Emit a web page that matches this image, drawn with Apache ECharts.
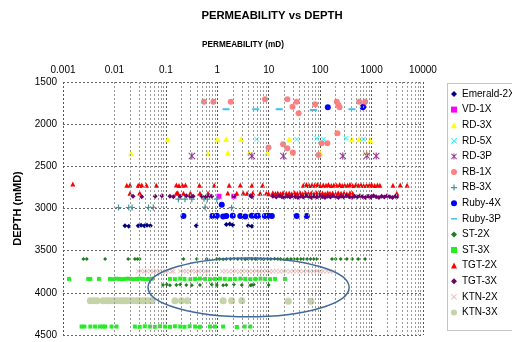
<!DOCTYPE html>
<html><head><meta charset="utf-8">
<script src="https://cdn.jsdelivr.net/npm/echarts@6/dist/echarts.min.js"></script>
<style>html,body{margin:0;padding:0;background:#fff}#c{width:512px;height:342px}</style>
</head><body><div id="c"></div>
<script>
// ---- tick labels ----
const xTickLabels = ['0.001','0.01','0.1','1','10','100','1000','10000'];
const yTicks = [1500,2000,2500,3000,3500,4000,4500];
const minorDecades = [0.001,0.01,0.1,1,10,100,1000];
const minorMults = [2,3,4,5,6,7,8,9];

// ---- series names ----
const seriesNames = ['Emerald-2X','VD-1X','RD-3X','RD-5X','RD-3P','RB-1X','RB-3X','Ruby-4X','Ruby-3P','ST-2X','ST-3X','TGT-2X','TGT-3X','KTN-2X','KTN-3X'];

// ---- data: [permeability mD, depth mMD] ----
const emerald2X = [[0.016,3205],[0.019,3210],[0.029,3205],[0.033,3200],[0.038,3205],[0.043,3200],[0.05,3205],[0.39,3205],[1.5,3190],[1.75,3185],[2.0,3195],[4.0,3205],[4.7,3210]];
const vd1X = [[1.08,2855],[2.1,2855],[700,1785]];
const rd3X = [[0.021,2345],[0.109,2180],[0.65,2345],[1.0,2180],[1.48,2175],[1.6,2338],[2.9,2175],[4.2,2338],[9.4,2338],[25,2180],[29.5,2338],[100,2338],[414,2180],[574,2175],[940,2192],[810,2338]];
const rd5X = [[5.8,2180],[35,2180],[86,2168],[116,2180],[320,2168],[697,2175]];
const rd3P = [[0.32,2377],[4.7,2377],[19.3,2377],[276,2377],[810,2375],[1230,2377]];
const rb1X = [[0.55,1733],[0.84,1733],[1.83,1733],[8.5,1705],[23,1705],[35,1733],[29,1792],[38,1871],[80,1764],[211,1733],[227,1772],[238,1800],[574,1733],[750,1733],[217,2108],[19,2238],[23,2286],[9.9,2277],[29.5,2337],[107,2226],[138,2226],[93,2365]];
const rb3X = [[0.175,2890],[0.235,2890],[0.32,2890],[0.55,2885],[0.64,2890],[0.98,2890],[0.012,2988],[0.019,2988],[0.022,2988],[0.046,2988],[0.057,2988],[0.58,2985],[1.9,2990]];
const ruby4X = [[1.22,2955],[141,1800],[676,1800],[0.22,3090],[0.8,3090],[0.98,3085],[1.3,3095],[1.5,3090],[2.0,3085],[2.8,3090],[3.5,3095],[4.7,3085],[5.8,3090],[6.2,3085],[8.4,3090],[9.8,3085],[11.5,3090],[35,3090],[55,3090]];
const ruby3P = [[1.48,1823],[5.6,1823],[16,1823],[74,1832],[414,1823]];
const st2X = [[0.0025,3598],[0.0029,3600],[0.0066,3598],[0.0185,3600],[0.025,3598],[0.028,3600],[0.031,3598],[0.22,3598],[0.4,3600],[0.62,3598],
  [0.97,3600],[1.1,3598],[1.3,3602],[1.5,3598],[1.8,3600],[2.1,3596],[2.5,3600],[3.0,3598],[3.5,3602],[4.0,3598],[4.7,3600],[5.5,3598],
  [6,3600],[7,3598],[8,3602],[9.5,3598],[11,3600],[13,3596],[15,3600],[17,3598],[20,3602],[23,3598],[27,3600],[31,3598],[36,3600],[42,3598],[48,3600],[56,3598],[65,3600],[75,3598],[85,3600],
  [170,3600],[200,3598],[250,3600],[330,3598],[420,3600],[550,3598],[750,3600],
  [0.088,3906],[0.104,3900],[0.12,3910],[0.16,3906],[0.19,3900],[0.25,3906],[0.32,3910],[0.46,3906],[0.78,3900],[0.98,3906],[1.3,3910],[1.5,3906],[2.1,3900],[3.0,3906],[4.4,3910],[4.7,3906],[5.1,3900],[10,3906]];
const st3X = [[0.00131,3835],[0.0031,3835],[0.0034,3835],[0.005,3835],
  [0.0082,3835],[0.0094,3838],[0.0107,3832],[0.0123,3835],[0.014,3838],[0.016,3835],[0.0183,3832],[0.021,3835],[0.024,3838],[0.0275,3835],[0.031,3832],[0.036,3835],[0.041,3838],[0.047,3835],[0.054,3832],
  [0.12,3835],[0.15,3838],[0.19,3832],[0.23,3835],[0.3,3838],[0.37,3835],[0.46,3832],[0.58,3835],[0.72,3838],[0.9,3835],[1.13,3832],[1.4,3835],[1.77,3838],[2.2,3835],[2.8,3832],[3.5,3835],[4.4,3838],[5.5,3835],[6.9,3832],[8.5,3835],[10.7,3838],[13.3,3835],[20.7,3835],
  [0.0023,4400],[0.0026,4400],[0.0034,4400],[0.0042,4400],[0.0052,4400],[0.006,4400],[0.0066,4400],[0.0088,4400],[0.011,4400],
  [0.025,4400],[0.031,4403],[0.039,4397],[0.049,4400],[0.061,4403],[0.077,4397],[0.096,4400],[0.12,4403],[0.15,4397],[0.19,4400],[0.23,4403],[0.29,4397],[0.37,4400],[0.46,4403],
  [0.72,4400],[0.9,4400],[1.3,4400],[2.4,4405],[3.4,4400],[4.4,4400]];
const tgt2X = [[0.00155,2709],
  [0.0174,2724],[0.02,2720],[0.029,2724],[0.031,2728],[0.034,2720],[0.042,2724],[0.065,2724],[0.16,2720],[0.18,2728],[0.21,2724],[0.24,2720],[0.45,2724],[0.87,2724],[1.7,2724],[2.8,2720],[4.7,2724],[7.6,2724],
  [47,2724],[54,2716],[61,2728],[69,2720],[78,2724],[88,2716],[100,2728],[115,2720],[130,2724],[145,2716],[165,2728],[185,2720],[210,2724],[240,2716],[270,2728],[300,2720],[340,2724],[380,2716],[430,2728],[490,2720],[550,2724],[620,2716],[700,2728],[800,2720],[900,2724],[1000,2716],[1150,2728],[1300,2720],[1450,2724],[2600,2724],[3600,2720],[4900,2724],
  [0.02,2818],[0.031,2815],[0.16,2820],[0.17,2812],[0.22,2820],[0.3,2815],[0.46,2818],[0.66,2820],[1.6,2815],[2.4,2818],[3.2,2815],[3.8,2820],[4.9,2815],
  [6.8,2820],[9,2815],[10,2825],[12,2812],[13.5,2822],[15,2815],[17,2825],[19,2812],[22,2820],[25,2815],[28,2825],[32,2812],[36,2820],[41,2815],[46,2825],[52,2812],[59,2820],[67,2815],[76,2825],[86,2812],[98,2820],[111,2815],[125,2825],[140,2812],[155,2820],[175,2815],[200,2825],[225,2812],[255,2820],[290,2815],[330,2825],[380,2812],[430,2820],[3100,2820]];
const tgt3X = [[0.023,2855],[0.034,2860],[0.062,2855],[0.084,2850],[0.12,2855],[0.14,2860],[0.19,2855],[0.25,2850],[0.3,2860],[0.34,2855],[0.5,2855],[0.6,2860],[0.7,2850],[0.78,2855],[2.1,2855],[4.7,2860],[4.4,2850],
  [12,2855],[14,2865],[16,2850],[18,2860],[20,2870],[23,2855],[26,2865],[29,2850],[33,2860],[37,2870],[42,2855],[47,2865],[53,2850],[60,2860],[68,2870],[76,2855],[86,2865],[97,2850],[110,2860],[124,2870],[140,2855],[158,2865],[178,2850],[200,2860],[226,2870],[255,2855],[288,2865],[325,2850],[367,2860],[414,2870],[468,2855],[528,2865],[596,2850],[673,2860],[760,2870],[858,2855],[968,2865],[1090,2850],[1230,2860],[1390,2870],[1570,2855],[1770,2865],[2000,2850],[2260,2860],[2550,2870],[2900,2855],[3100,2865]];
const ktn2X = [[0.029,3745],[0.033,3742],[0.038,3748],[0.043,3745],[0.05,3742],[0.057,3748],[0.065,3745],[0.075,3742],[0.086,3748],[0.1,3745],[0.11,3742],[0.13,3748],[0.14,3745],
  [0.19,3745],[0.22,3742],[0.25,3748],[0.29,3745],[0.33,3742],[0.38,3748],[0.44,3745],[0.5,3742],[0.58,3748],[0.66,3745],
  [1.25,3745],[1.45,3742],[1.7,3748],[2,3745],[2.3,3742],[2.7,3748],[3.1,3745],[3.6,3742],[4.2,3748],[4.9,3745],[5.7,3742],[6.6,3748],[7.7,3745],[9,3742],[10.5,3748],[12,3745],[14,3742],[16.5,3748],[19,3745],[22,3742],[26,3748],[30,3745],[35,3742],[40,3748],[47,3745],[55,3742],[64,3748],[75,3745],[87,3742],[100,3748],[115,3745],[135,3742],[155,3748],[180,3745]];
const ktn3X = [[0.0034,4095],[0.004,4095],[0.0046,4095],[0.006,4095],[0.007,4095],[0.008,4095],[0.0095,4095],[0.011,4095],[0.013,4095],[0.015,4095],[0.017,4095],[0.02,4095],[0.023,4095],[0.027,4095],[0.031,4095],[0.036,4095],[0.042,4095],[0.048,4095],[0.054,4095],
  [0.15,4095],[0.2,4095],[0.26,4095],[1.3,4095],[1.9,4095],[3.0,4095],[24,4100],[66,4100]];

// ---- ellipse annotation (data coords: left, right permeability; top, bottom depth) ----
const ellipsePerm = [0.045, 366];
const ellipseDepth = [3586, 4285];

const seriesData = [emerald2X, vd1X, rd3X, rd5X, rd3P, rb1X, rb3X, ruby4X, ruby3P, st2X, st3X, tgt2X, tgt3X, ktn2X, ktn3X];
const colors = ['#000080','#FF00FF','#FFFF00','#00FFFF','#993399','#FF8080','#3C9A9A','#0000FF','#40C0F0','#1E7B1E','#22EE22','#FF0000','#700070','#E6B8B7','#C4D4A8'];
const X_PATH = 'path://M0,1L1,0L5,4L9,0L10,1L6,5L10,9L9,10L5,6L1,10L0,9L4,5Z';
const STAR_PATH = 'path://M0,1L1,0L4.2,3.2V0H5.8V3.2L9,0L10,1L6,5L10,9L9,10L5.8,6.8V10H4.2V6.8L1,10L0,9L4,5Z';
const PLUS_PATH = 'path://M4,0H6V4H10V6H6V10H4V6H0V4H4Z';
const DASH_PATH = 'path://M0,4H10V6.5H0Z';
const symbols = ['diamond','rect','triangle',X_PATH,STAR_PATH,'circle',PLUS_PATH,'circle','rect','diamond','rect','triangle','diamond',X_PATH,'circle'];
const legendIcons = ['diamond','rect','triangle',X_PATH,STAR_PATH,'circle',PLUS_PATH,'circle',DASH_PATH,'diamond','rect','triangle','diamond',X_PATH,'circle'];
const sizes = [5,5,6,5,7,6,6,6,[7,2],4,4,5,5,5,7];

const minorVals = [];
minorDecades.forEach(d => minorMults.forEach(m => minorVals.push(+(d*m).toPrecision(3))));

const chart = echarts.init(document.getElementById('c'), null, {renderer:'canvas'});
const FONT = 'Liberation Sans, Arial, sans-serif';

const series = seriesNames.map((n,i) => ({
  name: n, type: 'scatter', data: seriesData[i],
  symbol: symbols[i], symbolSize: sizes[i],
  itemStyle: {color: colors[i], opacity: 1},
  emphasis: {disabled: true}
}));
series.unshift({
  name: '__minor', type: 'scatter', data: [], silent: true,
  markLine: {silent: true, symbol: ['none','none'], label: {show: false}, animation: false,
    lineStyle: {color: '#9a9a9a', type: [2,2], width: 1},
    data: minorVals.map(v => ({xAxis: v}))}
});

chart.setOption({
  animation: false,
  backgroundColor: '#fff',
  title: {text: 'PERMEABILITY vs DEPTH', left: 267, top: 5, textAlign: 'center',
    textStyle: {fontSize: 11.3, fontWeight: 'bold', color: '#000', fontFamily: FONT}},
  grid: {left: 63, top: 82, width: 360, height: 253, containLabel: false},
  xAxis: {type: 'log', logBase: 10, min: 0.001, max: 10000, splitNumber: 7, position: 'top',
    name: 'PERMEABILITY (mD)', nameLocation: 'middle', nameGap: 33,
    nameTextStyle: {fontSize: 8.2, fontWeight: 'bold', color: '#000', fontFamily: FONT},
    axisLine: {show: false}, axisTick: {show: false},
    axisLabel: {fontSize: 10, color: '#000', fontFamily: FONT, margin: 7,
      formatter: v => xTickLabels[Math.round(Math.log10(v)) + 3]},
    splitLine: {show: true, lineStyle: {color: '#555', type: [2,2], width: 1}}},
  yAxis: {type: 'value', inverse: true, min: yTicks[0], max: yTicks[yTicks.length-1], interval: 500,
    name: 'DEPTH (mMD)', nameLocation: 'middle', nameGap: 35, nameRotate: 90,
    nameTextStyle: {fontSize: 11, fontWeight: 'bold', color: '#000', fontFamily: FONT},
    axisLine: {show: false}, axisTick: {show: false},
    axisLabel: {fontSize: 10, color: '#000', fontFamily: FONT, margin: 6, formatter: v => String(v)},
    splitLine: {show: true, lineStyle: {color: '#666', type: [2,2], width: 1}}},
  legend: {data: seriesNames.map((n,i) => ({name: n, icon: legendIcons[i],
      itemStyle: {color: colors[i]}})),
    orient: 'vertical', left: 449, top: 86, itemWidth: 6, itemHeight: 6,
    itemGap: 3.6, padding: [2,2,2,2], selectedMode: false,
    textStyle: {fontSize: 10, color: '#000', fontFamily: FONT, lineHeight: 12}},
  series: series
});

const p1 = chart.convertToPixel({xAxisIndex:0, yAxisIndex:0}, [ellipsePerm[0], ellipseDepth[0]]);
const p2 = chart.convertToPixel({xAxisIndex:0, yAxisIndex:0}, [ellipsePerm[1], ellipseDepth[1]]);
chart.setOption({graphic: [
  {type: 'ellipse', shape: {cx: (p1[0]+p2[0])/2, cy: (p1[1]+p2[1])/2, rx: Math.abs(p2[0]-p1[0])/2, ry: Math.abs(p2[1]-p1[1])/2},
   style: {fill: null, stroke: '#3F6A9A', lineWidth: 1.5}, z: 100, silent: true},
  {type: 'rect', shape: {x: 447.5, y: 83.5, width: 70, height: 247},
   style: {fill: null, stroke: '#888', lineWidth: 1, lineDash: [1,1]}, z: 100, silent: true}
]});
</script></body></html>
